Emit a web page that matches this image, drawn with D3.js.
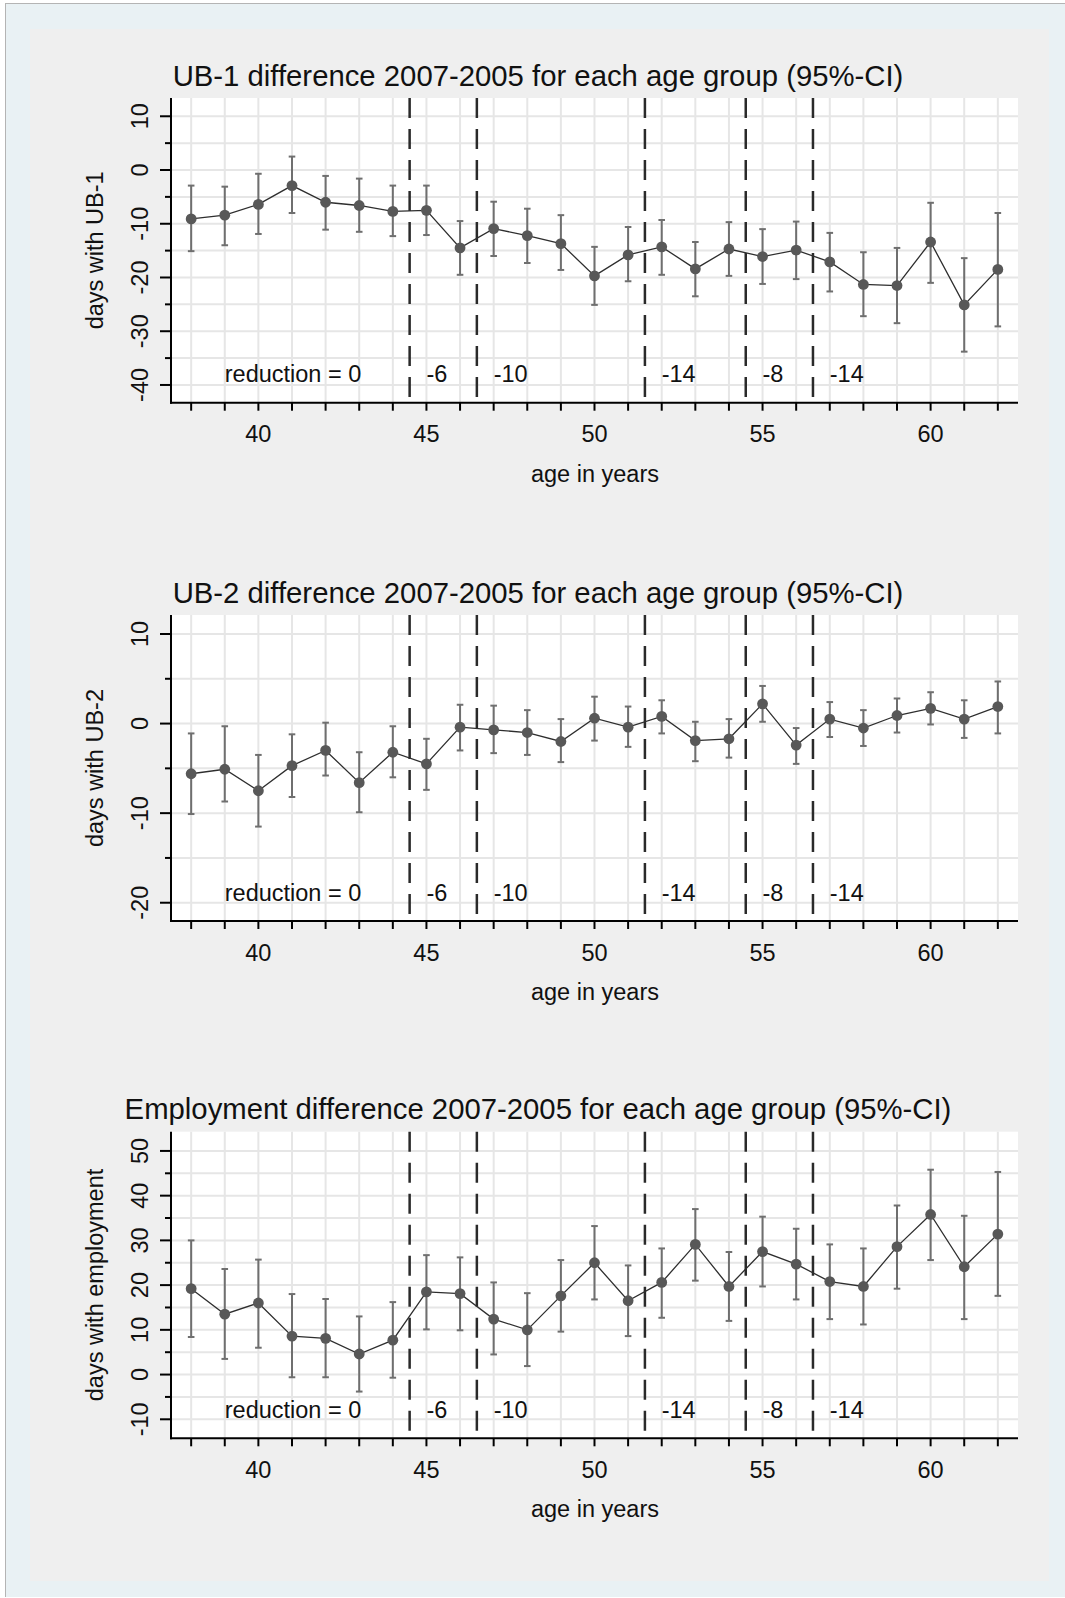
<!DOCTYPE html>
<html>
<head>
<meta charset="utf-8">
<script src="https://cdn.jsdelivr.net/npm/d3@7"></script>
<style>
  html, body { margin: 0; padding: 0; background: #ffffff; }
  svg { display: block; }
  text { font-family: "Liberation Sans", Arial, sans-serif; fill: #111; }
</style>
</head>
<body>
<div id="chart"></div>
<script>
// ---------------- data ----------------
const ages = [38,39,40,41,42,43,44,45,46,47,48,49,50,51,52,53,54,55,56,57,58,59,60,61,62];

const ub1Est = [-9.1,-8.4,-6.4,-2.9,-6.0,-6.6,-7.7,-7.5,-14.5,-10.9,-12.2,-13.7,-19.7,-15.8,-14.3,-18.4,-14.7,-16.1,-14.9,-17.1,-21.3,-21.5,-13.4,-25.1,-18.5];
const ub1Hi  = [-2.9,-3.1,-0.7,2.5,-1.1,-1.6,-2.9,-2.9,-9.5,-5.9,-7.2,-8.4,-14.3,-10.6,-9.3,-13.4,-9.7,-11.0,-9.6,-11.7,-15.3,-14.5,-6.1,-16.4,-8.0];
const ub1Lo  = [-15.1,-14.0,-11.9,-8.0,-11.1,-11.5,-12.3,-12.1,-19.5,-16.0,-17.3,-18.6,-25.1,-20.7,-19.5,-23.5,-19.7,-21.2,-20.3,-22.6,-27.2,-28.5,-21.0,-33.8,-29.1];

const ub2Est = [-5.6,-5.1,-7.5,-4.7,-3.0,-6.6,-3.2,-4.5,-0.4,-0.7,-1.0,-2.0,0.6,-0.4,0.8,-1.9,-1.7,2.2,-2.4,0.5,-0.5,0.9,1.7,0.5,1.9];
const ub2Hi  = [-1.1,-0.3,-3.5,-1.2,0.1,-3.2,-0.3,-1.7,2.1,2.0,1.5,0.5,3.0,1.9,2.6,0.2,0.5,4.2,-0.5,2.4,1.5,2.8,3.5,2.6,4.7];
const ub2Lo  = [-10.1,-8.7,-11.5,-8.2,-5.8,-9.9,-6.0,-7.4,-3.0,-3.3,-3.5,-4.3,-1.9,-2.6,-1.1,-4.2,-3.8,0.2,-4.5,-1.5,-2.5,-1.0,-0.1,-1.6,-1.1];

const empEst = [19.2,13.5,16.0,8.6,8.1,4.6,7.7,18.5,18.1,12.4,10.0,17.6,25.0,16.5,20.6,29.1,19.7,27.5,24.7,20.8,19.7,28.6,35.8,24.1,31.4];
const empHi  = [30.0,23.6,25.7,18.0,16.9,13.0,16.2,26.7,26.2,20.6,18.2,25.6,33.2,24.4,28.2,37.0,27.4,35.3,32.6,29.1,28.2,37.8,45.8,35.5,45.3];
const empLo  = [8.4,3.5,6.0,-0.6,-0.6,-3.8,-0.7,10.1,9.9,4.5,1.9,9.6,16.8,8.6,12.7,21.0,12.0,19.7,16.8,12.4,11.2,19.2,25.6,12.4,17.6];

const cutAges = [44.5, 46.5, 51.5, 54.5, 56.5];
const reductionAges = [39, 45, 47, 52, 55, 57];
const reductionLabels = ["reduction = 0", "-6", "-10", "-14", "-8", "-14"];

const xTickLabels = [40, 45, 50, 55, 60];

const panelTitles = [
  "UB-1 difference 2007-2005 for each age group (95%-CI)",
  "UB-2 difference 2007-2005 for each age group (95%-CI)",
  "Employment difference 2007-2005 for each age group (95%-CI)"
];
const yAxisTitles = ["days with UB-1", "days with UB-2", "days with employment"];
const xAxisTitle = "age in years";

const yTickLabels1 = [-40, -30, -20, -10, 0, 10];
const yTickLabels2 = [-20, -10, 0, 10];
const yTickLabels3 = [-10, 0, 10, 20, 30, 40, 50];

// ---------------- layout ----------------
const W = 1065, H = 1598;
const plotLeft = 172, plotRight = 1018;
const panels = [
  { top: 98,  bottom: 402.7, yDomain: [-43.3, 13.4],  est: ub1Est, lo: ub1Lo, hi: ub1Hi, ticks: yTickLabels1 },
  { top: 615, bottom: 921,   yDomain: [-22.04, 12.12], est: ub2Est, lo: ub2Lo, hi: ub2Hi, ticks: yTickLabels2 },
  { top: 1131.7, bottom: 1438.3, yDomain: [-14.25, 54.3], est: empEst, lo: empLo, hi: empHi, ticks: yTickLabels3 }
];

const svg = d3.select("#chart").append("svg")
  .attr("width", W).attr("height", H);

// backgrounds
svg.append("rect").attr("x", 5).attr("y", 3).attr("width", W - 5).attr("height", H - 4)
  .attr("fill", "#e9f1f4");
svg.append("line").attr("x1", 5.5).attr("x2", 5.5).attr("y1", 3).attr("y2", H - 1)
  .attr("stroke", "#b4b4b4").attr("stroke-width", 1);
svg.append("line").attr("x1", 5).attr("x2", W).attr("y1", 3.5).attr("y2", 3.5)
  .attr("stroke", "#b4b4b4").attr("stroke-width", 1);
svg.append("rect").attr("x", 30).attr("y", 29).attr("width", 1049 - 30).attr("height", 1581 - 29)
  .attr("fill", "#efefef");

const x = d3.scaleLinear().domain([37.43, 62.6]).range([plotLeft, plotRight]);
const titleCenter = 538;

panels.forEach((p, pi) => {
  const y = d3.scaleLinear().domain(p.yDomain).range([p.bottom, p.top]);
  const g = svg.append("g");

  // plot area
  g.append("rect").attr("x", plotLeft).attr("y", p.top)
    .attr("width", plotRight - plotLeft).attr("height", p.bottom - p.top)
    .attr("fill", "#ffffff");

  // grid lines
  const yMin = Math.ceil(p.yDomain[0] / 5) * 5;
  const gridY = d3.range(yMin, p.yDomain[1], 5);
  g.selectAll(".gy").data(gridY).enter().append("line")
    .attr("x1", plotLeft).attr("x2", plotRight)
    .attr("y1", d => y(d)).attr("y2", d => y(d))
    .attr("stroke", "#e6e6e6").attr("stroke-width", 2);
  g.selectAll(".gx").data(ages).enter().append("line")
    .attr("x1", d => x(d)).attr("x2", d => x(d))
    .attr("y1", p.top).attr("y2", p.bottom)
    .attr("stroke", "#e6e6e6").attr("stroke-width", 2);

  // dashed cut lines
  g.selectAll(".cut").data(cutAges).enter().append("line")
    .attr("x1", d => x(d)).attr("x2", d => x(d))
    .attr("y1", p.top).attr("y2", p.bottom)
    .attr("stroke", "#2a2a2a").attr("stroke-width", 2.5)
    .attr("stroke-dasharray", "20,11");

  // reduction labels
  g.selectAll(".red").data(reductionAges).enter().append("text")
    .attr("x", d => x(d)).attr("y", p.bottom - 20.5)
    .attr("font-size", "23.5px")
    .text((d, i) => reductionLabels[i]);

  // CI bars
  const capW = 3.3;
  const ci = g.append("g").attr("stroke", "#6f6f6f").attr("stroke-width", 2);
  ages.forEach((a, i) => {
    ci.append("line").attr("x1", x(a)).attr("x2", x(a)).attr("y1", y(p.lo[i])).attr("y2", y(p.hi[i]));
    ci.append("line").attr("x1", x(a) - capW).attr("x2", x(a) + capW).attr("y1", y(p.lo[i])).attr("y2", y(p.lo[i]));
    ci.append("line").attr("x1", x(a) - capW).attr("x2", x(a) + capW).attr("y1", y(p.hi[i])).attr("y2", y(p.hi[i]));
  });

  // connecting line
  const line = d3.line().x((d, i) => x(ages[i])).y(d => y(d));
  g.append("path").datum(p.est).attr("d", line)
    .attr("fill", "none").attr("stroke", "#2e2e2e").attr("stroke-width", 1.3);

  // points
  g.selectAll(".pt").data(p.est).enter().append("circle")
    .attr("cx", (d, i) => x(ages[i])).attr("cy", d => y(d)).attr("r", 5.4)
    .attr("fill", "#585858");

  // y axis
  const yAxisG = g.append("g").attr("transform", `translate(${plotLeft},0)`);
  yAxisG.append("line").attr("x1", -1).attr("x2", -1).attr("y1", p.top).attr("y2", p.bottom + 1)
    .attr("stroke", "#000").attr("stroke-width", 2);
  const minorTicks = gridY.filter(v => p.ticks.indexOf(v) < 0);
  yAxisG.selectAll(".ymaj").data(p.ticks).enter().append("line")
    .attr("x1", -12).attr("x2", -1).attr("y1", d => y(d)).attr("y2", d => y(d))
    .attr("stroke", "#000").attr("stroke-width", 2);
  yAxisG.selectAll(".ymin").data(minorTicks).enter().append("line")
    .attr("x1", -7).attr("x2", -1).attr("y1", d => y(d)).attr("y2", d => y(d))
    .attr("stroke", "#000").attr("stroke-width", 2);
  yAxisG.selectAll(".ylab").data(p.ticks).enter().append("text")
    .attr("transform", d => `translate(${148 - plotLeft},${y(d)}) rotate(-90)`)
    .attr("text-anchor", "middle").attr("font-size", "23.5px")
    .text(d => d);

  // x axis
  const xAxisG = g.append("g").attr("transform", `translate(0,${p.bottom})`);
  xAxisG.append("line").attr("x1", plotLeft - 2).attr("x2", plotRight).attr("y1", 0).attr("y2", 0)
    .attr("stroke", "#000").attr("stroke-width", 2);
  xAxisG.selectAll(".xt").data(ages).enter().append("line")
    .attr("x1", d => x(d)).attr("x2", d => x(d)).attr("y1", 0).attr("y2", 8)
    .attr("stroke", "#000").attr("stroke-width", 2);
  xAxisG.selectAll(".xl").data(xTickLabels).enter().append("text")
    .attr("x", d => x(d)).attr("y", 39.5)
    .attr("text-anchor", "middle").attr("font-size", "23.5px")
    .text(d => d);

  // axis titles
  g.append("text")
    .attr("x", (plotLeft + plotRight) / 2).attr("y", p.bottom + 79)
    .attr("text-anchor", "middle").attr("font-size", "23.5px")
    .text(xAxisTitle);
  g.append("text")
    .attr("transform", `translate(102.5,${(p.top + p.bottom) / 2}) rotate(-90)`)
    .attr("text-anchor", "middle").attr("font-size", "23.5px")
    .text(yAxisTitles[pi]);

  // panel title
  g.append("text")
    .attr("x", titleCenter).attr("y", p.top - 12.5)
    .attr("text-anchor", "middle").attr("font-size", "29.3px")
    .text(panelTitles[pi]);
});
</script>
</body>
</html>
